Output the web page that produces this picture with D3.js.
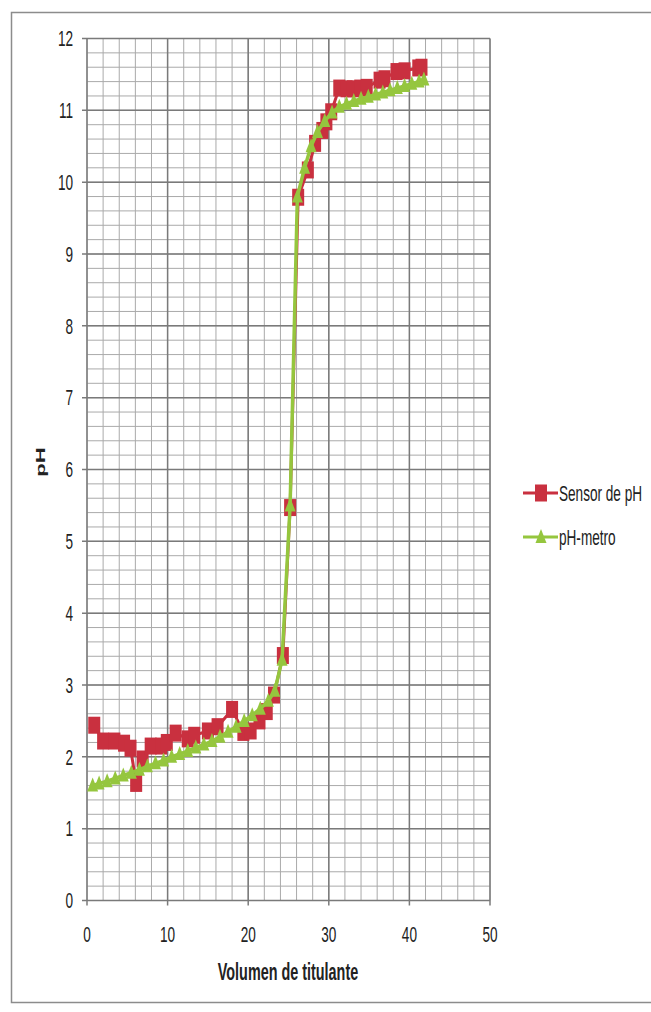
<!DOCTYPE html>
<html><head><meta charset="utf-8">
<script src="https://cdn.jsdelivr.net/npm/d3@7"></script>
<style>
html,body{margin:0;padding:0;background:#fff;}
svg{display:block;}
text{font-family:'Liberation Sans','Arial',sans-serif;fill:#222;}
</style></head>
<body>
<script>
// ---- data ----
const xTicks = [0, 10, 20, 30, 40, 50];
const yTicks = [0, 1, 2, 3, 4, 5, 6, 7, 8, 9, 10, 11, 12];
const seriesNames = ["Sensor de pH", "pH-metro"];
const sensorVol = [0.9, 2.0, 3.4, 4.6, 5.4, 6.1, 6.9, 7.9, 9.2, 9.9, 11.0, 12.5, 13.3, 15.0, 16.2, 18.0, 19.4, 20.3, 21.4, 22.3, 23.2, 24.3, 25.2, 26.2, 27.4, 28.3, 29.2, 29.7, 30.3, 31.3, 32.2, 33.0, 33.9, 34.7, 36.3, 36.9, 38.4, 39.4, 41.1, 41.5];
const sensorPH  = [2.44, 2.22, 2.22, 2.19, 2.12, 1.63, 1.97, 2.15, 2.15, 2.2, 2.33, 2.25, 2.3, 2.36, 2.42, 2.66, 2.34, 2.36, 2.5, 2.63, 2.86, 3.41, 5.47, 9.79, 10.17, 10.54, 10.72, 10.84, 10.98, 11.31, 11.3, 11.3, 11.31, 11.32, 11.42, 11.44, 11.54, 11.55, 11.59, 11.6];
const meterVol = [0.7, 1.5, 2.5, 3.5, 4.5, 5.5, 6.5, 7.5, 8.5, 9.5, 10.5, 11.5, 12.5, 13.5, 14.5, 15.5, 16.5, 17.5, 18.5, 19.5, 20.5, 21.5, 22.5, 23.3, 24.2, 25.2, 26.1, 27.0, 27.8, 28.6, 29.5, 30.4, 31.3, 32.2, 33.1, 34.0, 34.9, 35.8, 36.7, 37.6, 38.5, 39.4, 40.3, 41.2, 41.8];
const meterPH  = [1.6, 1.63, 1.66, 1.7, 1.74, 1.78, 1.82, 1.87, 1.91, 1.95, 2.0, 2.04, 2.08, 2.13, 2.17, 2.22, 2.28, 2.35, 2.42, 2.5, 2.58, 2.67, 2.78, 2.92, 3.35, 5.5, 9.8, 10.2, 10.5, 10.7, 10.85, 10.97, 11.05, 11.09, 11.13, 11.16, 11.19, 11.22, 11.25, 11.28, 11.31, 11.34, 11.37, 11.4, 11.43];

const W = 651, H = 1012;
const RED = "#C9303F", GREEN = "#95C63E";
const SX = 0.8, SY = 1.3; // narrow, vertically stretched look of the scanned picture

const svg = d3.select("body").append("svg").attr("width", W).attr("height", H);
svg.append("rect").attr("x", 11.5).attr("y", 12.5).attr("width", 660).attr("height", 990)
  .attr("fill", "#fff").attr("stroke", "#8c8c8c").attr("stroke-width", 1.5);

const x = d3.scaleLinear().domain([0, 50]).range([87, 490]);
const y = d3.scaleLinear().domain([0, 12]).range([900.5, 38.5]);

// grid
const g = svg.append("g");
const minorX = d3.range(0, 50.001, 2), minorY = d3.range(0, 12.001, 0.2);
g.selectAll("line.mx").data(minorX).join("line")
  .attr("x1", d => x(d)).attr("x2", d => x(d)).attr("y1", y(12)).attr("y2", y(0))
  .attr("stroke", "#aaaaaa").attr("stroke-width", 1);
g.selectAll("line.my").data(minorY).join("line")
  .attr("y1", d => y(d)).attr("y2", d => y(d)).attr("x1", x(0)).attr("x2", x(50))
  .attr("stroke", "#aaaaaa").attr("stroke-width", 1);
g.selectAll("line.Mx").data(xTicks).join("line")
  .attr("x1", d => x(d)).attr("x2", d => x(d)).attr("y1", y(12)).attr("y2", y(0) + 5)
  .attr("stroke", "#7a7a7a").attr("stroke-width", 1.5);
g.selectAll("line.My").data(yTicks).join("line")
  .attr("y1", d => y(d)).attr("y2", d => y(d)).attr("x1", x(0) - 5).attr("x2", x(50))
  .attr("stroke", "#7a7a7a").attr("stroke-width", 1.5);

// tick labels
svg.selectAll("text.yt").data(yTicks).join("text")
  .attr("transform", d => `translate(73,${y(d)}) scale(${SX},${SY})`)
  .attr("text-anchor", "end").attr("dominant-baseline", "central")
  .attr("font-size", 17).text(d => d);
svg.selectAll("text.xt").data(xTicks).join("text")
  .attr("transform", d => `translate(${x(d)},${y(0) + 34}) scale(${SX},${SY})`)
  .attr("text-anchor", "middle").attr("dominant-baseline", "central")
  .attr("font-size", 17).text(d => d);

// axis titles
svg.append("text").attr("transform", `translate(288,${y(0) + 71}) scale(${SX},${SY})`)
  .attr("text-anchor", "middle").attr("dominant-baseline", "central")
  .attr("font-size", 18).attr("font-weight", "bold").text("Volumen de titulante");
svg.append("text").attr("transform", `translate(40,462) rotate(-90) scale(${SY},${SX})`)
  .attr("text-anchor", "middle").attr("dominant-baseline", "central")
  .attr("font-size", 17).attr("font-weight", "bold").text("pH");

// series
const sensor = sensorVol.map((v, i) => [v, sensorPH[i]]);
const meter = meterVol.map((v, i) => [v, meterPH[i]]);
const line = d3.line().x(d => x(d[0])).y(d => y(d[1]));

svg.append("path").datum(sensor).attr("d", line).attr("fill", "none")
  .attr("stroke", RED).attr("stroke-width", 3);
svg.selectAll("rect.sq").data(sensor).join("rect")
  .attr("x", d => x(d[0]) - 6).attr("y", d => y(d[1]) - 8.5)
  .attr("width", 12).attr("height", 17).attr("fill", RED);

const tri = (cx, cy) => `M${cx},${cy - 8}L${cx + 5.5},${cy + 6}L${cx - 5.5},${cy + 6}Z`;
svg.append("path").datum(meter).attr("d", line).attr("fill", "none")
  .attr("stroke", GREEN).attr("stroke-width", 3.5);
svg.selectAll("path.tr").data(meter).join("path")
  .attr("d", d => tri(x(d[0]), y(d[1]))).attr("fill", GREEN);

// legend
const leg = [{ name: seriesNames[0], c: RED, y: 493 }, { name: seriesNames[1], c: GREEN, y: 537 }];
leg.forEach((l, i) => {
  svg.append("line").attr("x1", 523).attr("x2", 558).attr("y1", l.y).attr("y2", l.y)
    .attr("stroke", l.c).attr("stroke-width", 3);
  if (i === 0) svg.append("rect").attr("x", 535).attr("y", l.y - 8.5).attr("width", 12).attr("height", 17).attr("fill", l.c);
  else svg.append("path").attr("d", tri(541, l.y)).attr("fill", l.c);
  svg.append("text").attr("transform", `translate(559,${l.y}) scale(${SX},${SY})`)
    .attr("dominant-baseline", "central").attr("font-size", 17).text(l.name);
});
</script>
</body></html>
